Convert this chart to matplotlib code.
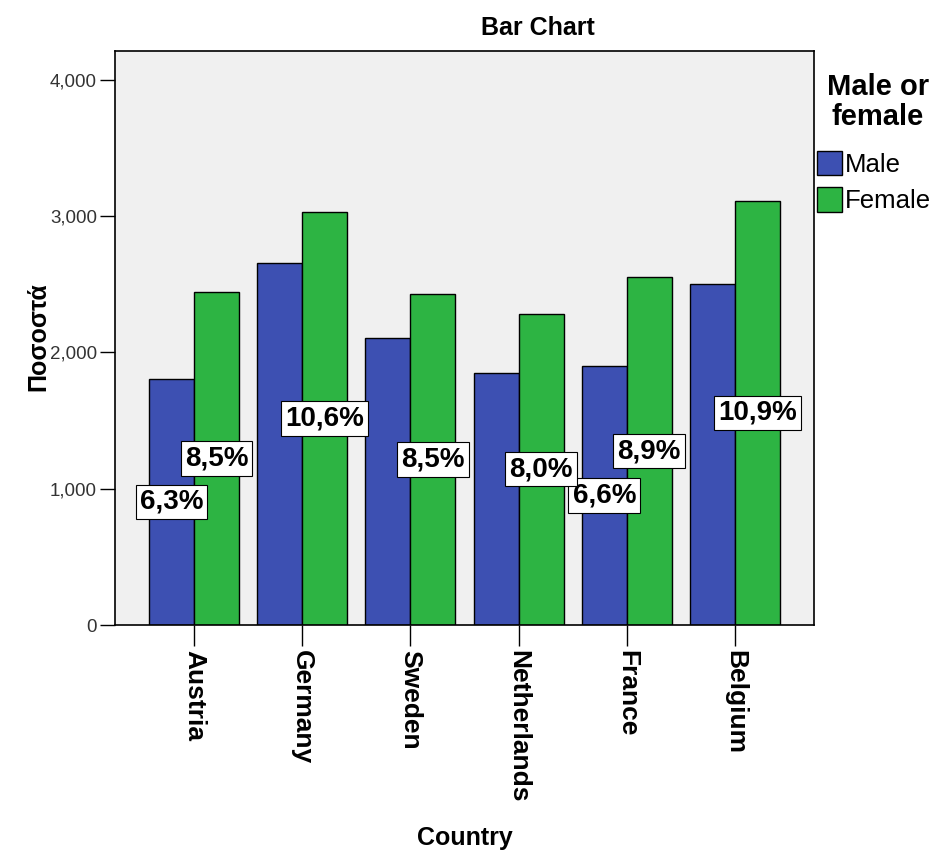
import numpy as np
import matplotlib
matplotlib.use('Agg')
import matplotlib.pyplot as plt
from matplotlib.patches import Patch

plt.rcParams['font.family'] = ['Liberation Sans', 'DejaVu Sans']

countries = ['Austria', 'Germany', 'Sweden', 'Netherlands', 'France', 'Belgium']
male = [1805, 2656, 2106, 1849, 1900, 2505]
female = [2443, 3030, 2428, 2285, 2550, 3112]
# SPSS drops labels that collide, so only the visible ones are kept
male_pct = ['6,3%', None, None, None, '6,6%', None]
female_pct = ['8,5%', '10,6%', '8,5%', '8,0%', '8,9%', '10,9%']
yticks = [0, 1000, 2000, 3000, 4000]

male_col = '#3d50b2'
female_col = '#2db443'

fig = plt.figure(figsize=(9.44, 8.52), dpi=100)
ax = fig.add_axes([115/944, 1-625/852, (814-115)/944, (625-51)/852])
ax.set_facecolor('#f0f0f0')

x = np.arange(len(countries))
w = 0.415
ax.bar(x - w/2, male, w, color=male_col, edgecolor='black', linewidth=1, label='Male', zorder=2)
ax.bar(x + w/2, female, w, color=female_col, edgecolor='black', linewidth=1, label='Female', zorder=2)

box = dict(boxstyle='square,pad=0.15', fc='white', ec='black', lw=0.8)
for i in range(len(countries)):
    if male_pct[i]:
        ax.text(x[i] - w/2, male[i]/2, male_pct[i], ha='center', va='center', fontsize=20,
                fontweight='bold', bbox=box, zorder=4)
    if female_pct[i]:
        ax.text(x[i] + w/2, female[i]/2, female_pct[i], ha='center', va='center', fontsize=20,
                fontweight='bold', bbox=box, zorder=5)

ax.set_xlim(-0.73, len(countries) - 1 + 0.73)
ax.set_ylim(0, 4211)
ax.set_yticks(yticks)
ax.set_yticklabels(['{:,}'.format(v) for v in yticks], fontsize=13.5, color='#333333')
ax.set_xticks(x)
ax.set_xticklabels(countries, rotation=270, fontsize=19, fontweight='bold', ha='center', va='top')
ax.tick_params(axis='y', length=11, width=1, direction='out', pad=2)
ax.tick_params(axis='x', length=15, width=1, direction='out', pad=3)
for s in ax.spines.values():
    s.set_color('black')
    s.set_linewidth(1.2)

fig.text(38/944, 1-337/852, 'Ποσοστά', fontsize=18, fontweight='bold', rotation=90,
         ha='center', va='center')
fig.text(465/944, 1-838/852, 'Country', fontsize=18, fontweight='bold', ha='center', va='center')
fig.text(538/944, 1-28/852, 'Bar Chart', fontsize=18, fontweight='bold', ha='center', va='center')

# legend title sits apart from the entries, as SPSS draws it
fig.text(878/944, 1-102/852, 'Male or\nfemale', fontsize=21, fontweight='bold',
         ha='center', va='center', linespacing=1.1)
handles = [Patch(facecolor=male_col, edgecolor='black', label='Male'),
           Patch(facecolor=female_col, edgecolor='black', label='Female')]
fig.legend(handles=handles, loc='upper left', bbox_to_anchor=(814/944, 1-148/852),
           frameon=False, fontsize=18.5, handlelength=1.0, handleheight=1.1,
           handletextpad=0.1, labelspacing=0.42, borderaxespad=0.0, borderpad=0.1)

fig.savefig('out.png', dpi=100, facecolor='white')
